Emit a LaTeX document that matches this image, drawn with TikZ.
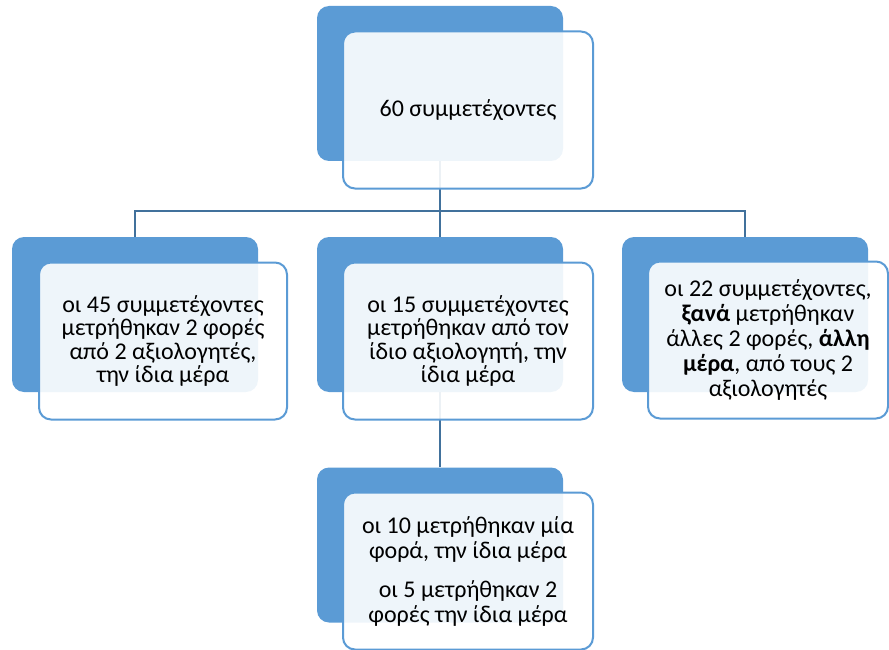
\documentclass[tikz,border=0pt]{standalone}
\usepackage{fontspec}
\setmainfont{Carlito}
\usepackage{xcolor}
\definecolor{Accent}{HTML}{5B9BD5}
\definecolor{LineBlue}{HTML}{41719C}
\usetikzlibrary{positioning}
\tikzset{
  backbox/.style={
    rectangle, rounded corners=12pt, fill=Accent,
    minimum width=246pt, minimum height=155pt, inner sep=0pt
  },
  frontbox/.style={
    rectangle, rounded corners=12pt, draw=Accent, line width=2pt,
    fill=white, fill opacity=0.9, text opacity=1,
    minimum width=#1, minimum height=157pt, align=center,
    font=\fontsize{24}{23.5}\selectfont
  },
  frontbox/.default=248pt,
  conn/.style={line width=2pt, color=LineBlue},
}

\begin{document}
\begin{tikzpicture}[x=1pt, y=-1pt]
\useasboundingbox (0,0) rectangle (889,650);

% back panels
\node[backbox] (top) at (440,83.5) {};
\node[backbox] (left) at (135,314.5) {};
\node[backbox] (mid) at (440,314.5) {};
\node[backbox] (right) at (745,314.5) {};
\node[backbox] (low) at (440,545) {};

% connectors
\coordinate (bus) at (440,211);
\draw[conn] (top.south) -- (bus);
\draw[conn] (left.north) |- (bus) -| (right.north);
\draw[conn] (bus) -- (mid.north);
\draw[conn] (mid.south) -- (low.north);

% front panels
\node[frontbox=250pt] (topT) at (468,110) {60 συμμετέχοντες};
\node[frontbox] (leftT) at (163,341) {%
  οι 45 συμμετέχοντες\\
  μετρήθηκαν 2 φορές\\
  από 2 αξιολογητές,\\
  την ίδια μέρα};
\node[frontbox=250pt] (midT) at (468,341) {%
  οι 15 συμμετέχοντες\\
  μετρήθηκαν από τον\\
  ίδιο αξιολογητή, την\\
  ίδια μέρα};
\node[frontbox=240pt, font=\fontsize{24}{25}\selectfont] (rightT) at (768,340) {%
  οι 22 συμμετέχοντες,\\
  \textbf{ξανά} μετρήθηκαν\\
  άλλες 2 φορές, \textbf{άλλη}\\
  \textbf{μέρα}, από τους 2\\
  αξιολογητές};
\node[frontbox=250pt, font=\fontsize{24}{25}\selectfont] (lowT) at (468,571) {%
  οι 10 μετρήθηκαν μία\\
  φορά, την ίδια μέρα\\[14pt]
  οι 5 μετρήθηκαν 2\\
  φορές την ίδια μέρα};

\end{tikzpicture}
\end{document}
